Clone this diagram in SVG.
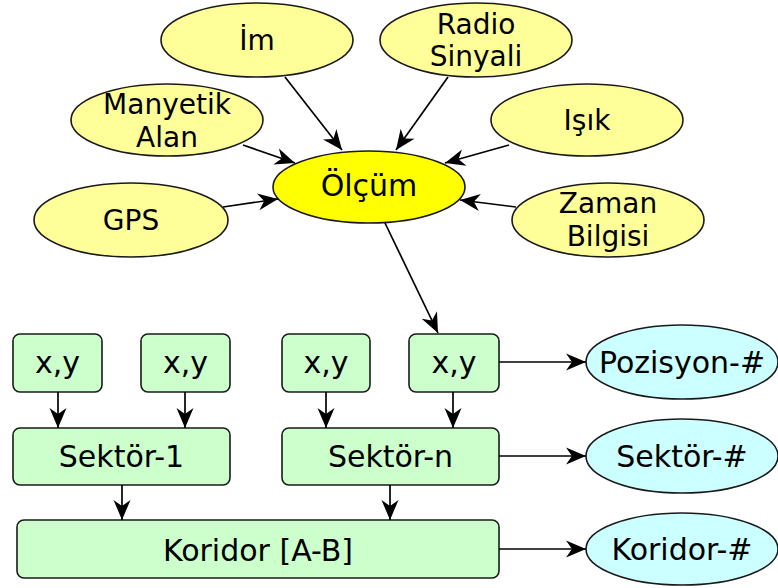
<svg xmlns="http://www.w3.org/2000/svg" width="778" height="588" viewBox="0 0 778 588">
  <style>
    .src ellipse { fill: #ffff99; stroke: #1a1a1a; stroke-width: 1.6; }
    .hub ellipse { fill: #ffff00; stroke: #1a1a1a; stroke-width: 1.6; }
    .out ellipse { fill: #ccffff; stroke: #1a1a1a; stroke-width: 1.6; }
    .box rect { fill: #ccffcc; stroke: #1a1a1a; stroke-width: 1.6; }
    text { font-family: "DejaVu Sans", sans-serif; font-size: 30px; fill: #000; text-anchor: middle; }
    .src text { font-size: 28px; }
    #connectors line { stroke: #000; stroke-width: 1.7; marker-end: url(#ah); }
  </style>
  <defs>
    <marker id="ah" viewBox="-22 -10 23 20" markerWidth="23" markerHeight="20" refX="0" refY="0" orient="auto" markerUnits="userSpaceOnUse">
      <path d="M0,0 L-20,-8.5 L-14,0 L-20,8.5 Z" fill="#000"/>
    </marker>
  </defs>

  <!-- measurement sources -->
  <g id="im" class="src"><ellipse cx="257" cy="40" rx="96" ry="37"/><text x="257" y="50">İm</text></g>
  <g id="radio" class="src"><ellipse cx="476" cy="40" rx="96" ry="37"/><text x="476" y="34">Radio</text><text x="476" y="66">Sinyali</text></g>
  <g id="manyetik" class="src"><ellipse cx="167" cy="120" rx="96" ry="36"/><text x="167" y="114">Manyetik</text><text x="167" y="147">Alan</text></g>
  <g id="isik" class="src"><ellipse cx="587" cy="120" rx="96" ry="36"/><text x="587" y="130">Işık</text></g>
  <g id="gps" class="src"><ellipse cx="131" cy="220" rx="97" ry="37"/><text x="131" y="230">GPS</text></g>
  <g id="zaman" class="src"><ellipse cx="608" cy="220" rx="96" ry="37"/><text x="608" y="213">Zaman</text><text x="608" y="246">Bilgisi</text></g>

  <!-- central measurement -->
  <g id="olcum" class="hub"><ellipse cx="369" cy="187" rx="96" ry="36"/><text x="369" y="196">Ölçüm</text></g>

  <!-- positions, sectors, corridor -->
  <g id="xy1" class="box"><rect x="13" y="334" width="89" height="58" rx="7"/><text x="57.5" y="373">x,y</text></g>
  <g id="xy2" class="box"><rect x="141" y="334" width="89" height="58" rx="7"/><text x="185.5" y="373">x,y</text></g>
  <g id="xy3" class="box"><rect x="282" y="334" width="88" height="58" rx="7"/><text x="326" y="373">x,y</text></g>
  <g id="xy4" class="box"><rect x="409" y="334" width="90" height="58" rx="7"/><text x="454" y="373">x,y</text></g>
  <g id="sektor1" class="box"><rect x="13" y="428" width="217" height="57" rx="7"/><text x="121.5" y="467">Sektör-1</text></g>
  <g id="sektorn" class="box"><rect x="282" y="428" width="217" height="57" rx="7"/><text x="390.5" y="467">Sektör-n</text></g>
  <g id="koridor" class="box"><rect x="17" y="520" width="482" height="58" rx="7"/><text x="258" y="561">Koridor [A-B]</text></g>

  <!-- outputs -->
  <g id="pozisyon-out" class="out"><ellipse cx="682" cy="362" rx="96" ry="37"/><text x="682" y="373">Pozisyon-#</text></g>
  <g id="sektor-out" class="out"><ellipse cx="682" cy="456" rx="96" ry="37"/><text x="682" y="467">Sektör-#</text></g>
  <g id="koridor-out" class="out"><ellipse cx="682" cy="549" rx="96" ry="36"/><text x="682" y="560">Koridor-#</text></g>

  <g id="connectors">
    <line x1="285" y1="77" x2="342" y2="150"/>
    <line x1="448" y1="77" x2="396" y2="150"/>
    <line x1="243" y1="145" x2="295" y2="163"/>
    <line x1="509" y1="145" x2="445" y2="163"/>
    <line x1="223" y1="207" x2="278" y2="199"/>
    <line x1="516" y1="207" x2="460" y2="200"/>
    <line x1="385" y1="223" x2="438" y2="333"/>
    <line x1="58" y1="392" x2="58" y2="428"/>
    <line x1="185" y1="392" x2="185" y2="428"/>
    <line x1="326" y1="392" x2="326" y2="428"/>
    <line x1="453" y1="392" x2="453" y2="428"/>
    <line x1="122" y1="485" x2="122" y2="520"/>
    <line x1="390" y1="485" x2="390" y2="520"/>
    <line x1="499" y1="362" x2="586" y2="362"/>
    <line x1="499" y1="456" x2="586" y2="456"/>
    <line x1="499" y1="549" x2="586" y2="549"/>
  </g>
</svg>
